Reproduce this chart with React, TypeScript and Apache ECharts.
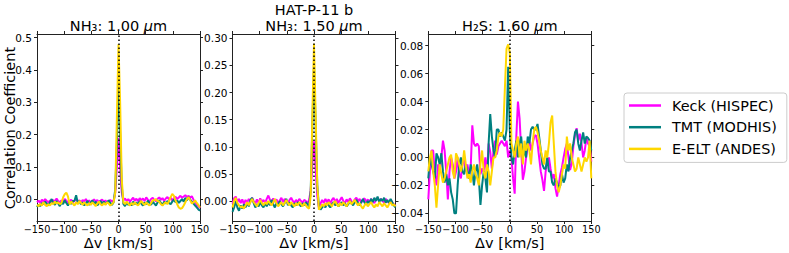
import React, { useEffect, useRef } from 'react';
import * as echarts from 'echarts';

// ---------------- DATA ----------------
const velocity = [
  -150, -147, -144, -141, -138, -135, -132, -129, -126, -123,
  -120, -117, -114, -111, -108, -105, -102, -99, -96, -93,
  -90, -87, -84, -81, -78, -75, -72, -69, -66, -63,
  -60, -57, -54, -51, -48, -45, -42, -39, -36, -33,
  -30, -27, -24, -21, -18, -15, -12, -9, -6, -3,
  0,
  3, 6, 9, 12, 15, 18, 21, 24, 27, 30,
  33, 36, 39, 42, 45, 48, 51, 54, 57, 60,
  63, 66, 69, 72, 75, 78, 81, 84, 87, 90,
  93, 96, 99, 102, 105, 108, 111, 114, 117, 120,
  123, 126, 129, 132, 135, 138, 141, 144, 147, 150,
];

const seriesNames = ['Keck (HISPEC)', 'TMT (MODHIS)', 'E-ELT (ANDES)'];
const panelTitles = ['NH₃: 1.00 ', 'NH₃: 1.50 ', 'H₂S: 1.60 '];
const supTitle = 'HAT-P-11 b';
const xName = 'Δv [km/s]';
const yName = 'Correlation Coefficient';

const xTicks = [-150, -100, -50, 0, 50, 100, 150];
const yTicksP1 = [0, 0.1, 0.2, 0.3, 0.4, 0.5];
const yTicksP2 = [0, 0.05, 0.1, 0.15, 0.2, 0.25, 0.3];
const yTicksP3 = [-0.04, -0.02, 0, 0.02, 0.04, 0.06, 0.08];

// NH3 1.00 um
const keckNH3_100 = [
  -0.01, -0.005, -0.012, -0.002, -0.008, 0.0, -0.006, -0.01, -0.004, -0.012,
  -0.003, -0.008, 0.002, -0.006, -0.01, -0.004, -0.009, 0.0, -0.005, -0.012,
  -0.007, -0.002, -0.01, -0.006, 0.001, -0.008, -0.004, -0.011, -0.003, -0.007,
  0.0, -0.009, -0.004, -0.012, -0.006, -0.001, -0.008, -0.003, -0.01, -0.005,
  -0.002, -0.009, -0.004, -0.01, -0.006, -0.003, -0.008, -0.005, 0.02,
  0.1, 0.19, 0.1, 0.02,
  -0.004, 0.002, -0.006, 0.0, -0.008, -0.002, 0.004, -0.005, 0.001, -0.007,
  0.003, -0.004, 0.002, -0.006, 0.005, -0.002, -0.008, 0.0, 0.004, -0.003,
  -0.007, 0.001, 0.005, -0.002, 0.003, -0.006, 0.002, 0.006, -0.001, 0.004,
  -0.004, 0.002, 0.007, 0.0, 0.005, 0.01, 0.004, 0.008, 0.012, 0.006,
  0.01, 0.004, 0.009, -0.002, -0.01, -0.018, -0.022, -0.028,
];
const tmtNH3_100 = [
  -0.025, -0.018, -0.022, -0.012, -0.016, -0.008, -0.014, -0.02, -0.01, 0.0,
  -0.012, -0.018, -0.006, -0.014, -0.022, -0.01, -0.016, -0.004, -0.012, -0.02,
  -0.008, -0.015, -0.006, -0.005, 0.012, -0.012, -0.006, -0.016, -0.01, -0.02,
  -0.012, -0.006, -0.018, -0.01, -0.004, -0.015, -0.008, -0.02, -0.012, -0.006,
  -0.014, -0.008, -0.016, -0.01, -0.004, -0.012, -0.018, -0.01, 0.03,
  0.17, 0.36, 0.2, 0.04,
  -0.015, -0.022, -0.01, -0.018, -0.012, -0.02, -0.008, -0.016, -0.01, -0.018,
  -0.006, -0.014, -0.02, -0.01, -0.016, -0.005, -0.012, -0.018, -0.008, -0.014,
  -0.02, -0.01, -0.004, -0.012, -0.018, -0.008, -0.014, -0.006, -0.012, -0.016,
  -0.008, -0.002, -0.01, -0.004, -0.012, -0.006, 0.0, -0.008, 0.004, -0.004,
  0.006, -0.002, -0.008, -0.014, -0.02, -0.026, -0.032, -0.036,
];
const eeltNH3_100 = [
  -0.018, -0.022, -0.015, -0.02, -0.01, -0.018, -0.022, -0.016, -0.02, -0.012,
  -0.016, -0.008, -0.014, -0.01, -0.016, -0.012, 0.005, 0.015, 0.02, 0.008,
  -0.016, -0.008, -0.014, -0.02, -0.01, -0.016, -0.006, -0.012, -0.018, -0.01,
  -0.016, -0.02, -0.012, -0.018, -0.01, -0.016, -0.022, -0.014, -0.008, -0.016,
  -0.02, -0.012, -0.018, -0.01, -0.014, -0.02, -0.016, -0.01, 0.02,
  0.25, 0.48, 0.3, 0.06,
  -0.01, -0.016, -0.008, -0.014, -0.02, -0.012, -0.018, -0.01, -0.016, -0.02,
  -0.012, -0.006, -0.014, -0.018, -0.01, -0.016, -0.02, -0.012, -0.004, -0.004,
  0.0, -0.006, -0.008, -0.016, -0.02, -0.014, -0.01, -0.016, -0.006, 0.006,
  0.016, 0.01, -0.004, -0.016, -0.026, -0.03, -0.028, -0.02, -0.01, 0.0,
  0.006, -0.004, -0.014, -0.01, -0.004, -0.012, -0.018, -0.026,
];

// NH3 1.50 um
const keckNH3_150 = [
  -0.005, 0.005, 0.008, -0.002, 0.004, -0.004, 0.003, -0.006, 0.002, -0.003,
  0.004, -0.002, 0.006, 0.0, -0.005, 0.003, -0.004, 0.005, -0.002, 0.002,
  -0.004, 0.004, 0.01, 0.002, -0.003, 0.005, -0.002, 0.003, -0.005, 0.001,
  0.006, -0.002, 0.004, 0.0, -0.004, 0.002, 0.006, 0.0, -0.003, 0.002,
  -0.002, 0.004, 0.0, -0.003, 0.002, 0.0, -0.004, 0.002, 0.02,
  0.07, 0.11, 0.06, 0.01,
  -0.012, -0.005, 0.002, -0.004, 0.004, -0.002, 0.003, -0.005, 0.002, 0.006,
  -0.002, 0.004, -0.004, 0.002, 0.007, 0.0, -0.004, 0.003, -0.002, 0.005,
  0.0, -0.004, 0.003, 0.006, -0.001, 0.004, -0.003, 0.002, 0.005, -0.002,
  0.003, -0.003, 0.004, 0.0, -0.004, 0.002, 0.006, -0.001, 0.004, 0.0,
  -0.003, 0.004, 0.0, -0.004, 0.002, -0.003, -0.006, -0.01,
];
const tmtNH3_150 = [
  -0.02, -0.012, 0.0, -0.012, -0.018, -0.008, -0.014, -0.006, -0.012, -0.004,
  -0.01, 0.002, 0.006, -0.004, -0.012, -0.006, -0.01, -0.002, -0.008, -0.012,
  -0.004, -0.01, -0.002, -0.008, 0.002, -0.006, -0.012, -0.004, -0.008, 0.0,
  -0.006, -0.01, -0.004, 0.004, -0.008, -0.002, -0.008, -0.012, -0.004, -0.008,
  -0.002, -0.006, -0.01, -0.004, -0.008, -0.002, -0.006, -0.01, 0.02,
  0.14, 0.25, 0.14, 0.03,
  -0.01, -0.016, -0.012, -0.008, -0.012, -0.004, -0.008, -0.012, -0.006, -0.002,
  -0.008, -0.004, -0.01, -0.006, -0.002, -0.008, -0.004, -0.01, -0.006, 0.0,
  -0.004, -0.008, -0.002, 0.002, -0.004, -0.008, -0.002, 0.004, -0.003, -0.006,
  0.0, -0.004, 0.004, -0.002, 0.006, 0.0, 0.008, -0.002, 0.004, 0.0,
  0.006, -0.003, 0.002, -0.004, 0.004, -0.002, -0.008, -0.012,
];
const eeltNH3_150 = [
  -0.012, 0.0, 0.006, -0.004, -0.008, -0.012, -0.01, -0.014, -0.008, -0.002,
  -0.008, -0.002, 0.004, -0.002, -0.006, -0.01, -0.004, 0.002, -0.004, -0.008,
  -0.002, -0.006, 0.0, -0.004, -0.008, -0.002, 0.004, -0.004, -0.01, -0.006,
  -0.002, -0.008, -0.004, 0.002, -0.004, -0.008, -0.002, -0.006, -0.01, -0.004,
  -0.008, -0.002, -0.006, -0.01, -0.004, -0.008, -0.012, -0.014, 0.01,
  0.16, 0.29, 0.16, 0.03,
  -0.016, -0.012, -0.006, -0.01, -0.004, -0.008, -0.002, -0.006, -0.01, -0.004,
  0.0, -0.006, -0.01, -0.004, -0.008, -0.002, -0.006, -0.01, -0.004, 0.0,
  -0.006, -0.002, 0.002, -0.004, -0.008, -0.004, -0.01, -0.014, -0.008, -0.004,
  -0.01, -0.006, -0.002, -0.008, -0.012, -0.006, -0.01, -0.002, -0.006, -0.01,
  -0.004, -0.008, -0.012, -0.006, -0.002, -0.008, -0.006, -0.01,
];

// H2S 1.60 um
const keckH2S_160 = [
  -0.03, -0.01, 0.005, 0.005, -0.012, -0.02, -0.005, -0.01, 0.0, 0.012,
  0.005, -0.01, -0.03, -0.01, 0.0, -0.005, -0.015, -0.01, 0.0, -0.012,
  -0.015, -0.005, 0.0, -0.01, -0.005, -0.012, -0.008, 0.023, 0.01, 0.008,
  0.01, 0.008, -0.012, -0.008, -0.01, 0.0, -0.012, 0.01, 0.004, -0.008,
  0.005, 0.012, 0.002, 0.008, 0.01, 0.012, 0.01, 0.008, 0.012,
  0.0, 0.005, 0.0, -0.015,
  -0.026, 0.015, 0.04, 0.028, 0.005, -0.016, -0.01, 0.0, 0.008, 0.012,
  0.005, 0.01, 0.015, 0.016, 0.01, 0.0, -0.01, -0.016, -0.024, -0.01,
  -0.004, 0.0, -0.008, -0.015, -0.012, -0.022, -0.028, -0.02, -0.012, -0.007,
  0.0, 0.006, 0.01, 0.0, -0.009, -0.004, 0.008, 0.016, 0.021, 0.012,
  0.017, 0.01, 0.0, 0.005, 0.014, 0.01, 0.008, -0.003,
];
const tmtH2S_160 = [
  -0.015, 0.0, -0.005, -0.01, -0.015, 0.003, 0.0, -0.005, 0.003, -0.01,
  -0.018, -0.012, -0.02, -0.015, -0.025, -0.03, -0.04, -0.04, -0.02, -0.005,
  0.0, -0.01, -0.012, -0.005, -0.01, -0.015, -0.005, -0.01, -0.02, -0.01,
  -0.005, -0.015, -0.034, -0.02, -0.01, -0.015, -0.025, 0.01, 0.031, 0.015,
  0.005, 0.0, 0.02, 0.02, 0.015, 0.018, 0.015, 0.012, 0.02,
  0.065, 0.02, 0.0, -0.005,
  0.005, 0.012, 0.0, 0.01, 0.015, 0.0, 0.005, 0.0, 0.015, 0.01,
  0.02, 0.022, 0.02, 0.02, 0.024, 0.015, 0.005, -0.005, -0.008, -0.008,
  0.0, -0.01, -0.01, -0.018, -0.02, -0.015, -0.018, -0.022, -0.02, -0.012,
  -0.018, -0.015, -0.005, -0.01, 0.0, 0.005, 0.01, 0.018, 0.02, 0.01,
  0.005, 0.012, 0.018, 0.01, 0.015, 0.014, 0.012, 0.005,
];
const eeltH2S_160 = [
  -0.01, 0.0, 0.005, -0.01, -0.02, -0.036, -0.02, -0.005, -0.012, -0.018,
  -0.015, -0.01, -0.005, 0.0, 0.002, -0.01, -0.015, 0.003, 0.0, -0.005,
  -0.01, -0.005, 0.005, -0.005, -0.015, -0.012, -0.018, -0.01, -0.005, -0.012,
  -0.015, -0.02, -0.005, 0.005, -0.01, -0.015, -0.005, -0.01, -0.02, -0.01,
  0.0, 0.0, 0.005, 0.015, 0.018, 0.015, 0.02, 0.05, 0.078,
  0.081, 0.075, 0.01, 0.005,
  0.0, 0.01, 0.015, 0.0, 0.01, -0.005, 0.012, 0.005, 0.01, 0.005,
  -0.005, 0.01, 0.02, 0.022, 0.018, 0.012, 0.005, 0.0, -0.005, 0.005,
  0.0, 0.01, 0.025, 0.03, 0.01, -0.01, -0.02, -0.025, -0.02, -0.012,
  -0.005, -0.008, 0.015, 0.005, 0.01, 0.0, -0.005, -0.01, -0.008, 0.0,
  -0.005, -0.01, -0.005, 0.0, -0.003, 0.0, 0.012, -0.015,
];

// ---------------- LAYOUT / STYLE ----------------
const FONT = 'DejaVu Sans';
const AX = '#222';
const COLORS = ['#FF00FF', '#008080', '#FFD700'];

const panels = [
  { left: 37, yMin: -0.068, yMax: 0.5115, yTicks: yTicksP1, dec: 1, data: [keckNH3_100, tmtNH3_100, eeltNH3_100] },
  { left: 232.5, yMin: -0.0369, yMax: 0.308, yTicks: yTicksP2, dec: 2, data: [keckNH3_150, tmtNH3_150, eeltNH3_150] },
  { left: 428.3, yMin: -0.0455, yMax: 0.0884, yTicks: yTicksP3, dec: 2, data: [keckH2S_160, tmtH2S_160, eeltH2S_160] },
];
const PW = 163;
const TOP = 34;
const PH = 187;

const fmt = (v: number, d: number) => {
  const s = Math.abs(v).toFixed(d);
  return v < -1e-9 ? '\u2212' + s : s;
};

export default function App() {
  const ref = useRef<HTMLDivElement>(null);
  useEffect(() => {
    if (!ref.current) return;
    const chart = echarts.init(ref.current, undefined, { renderer: 'svg' });

    const grids: any[] = [];
    const xAxes: any[] = [];
    const yAxes: any[] = [];
    const series: any[] = [];
    const graphics: any[] = [];

    panels.forEach((p, g) => {
      grids.push({ left: p.left, top: TOP, width: PW, height: PH, containLabel: false });
      const lineCfg = { show: true, onZero: false, lineStyle: { color: AX, width: 1 } };
      const xBase = {
        type: 'value', gridIndex: g, min: -150, max: 150,
        axisLine: lineCfg, splitLine: { show: false },
        axisTick: { show: true, inside: false, length: 3, customValues: xTicks, lineStyle: { color: AX, width: 1 } },
      };
      xAxes.push({
        ...xBase, position: 'bottom',
        axisLabel: {
          show: true, customValues: xTicks, formatter: (v: number) => fmt(v, 0), margin: 3.5,
          showMinLabel: true, showMaxLabel: true, hideOverlap: false,
          fontFamily: FONT, fontSize: 9.7, color: '#000',
        },
      });
      xAxes.push({ ...xBase, position: 'top', axisLabel: { show: false } });
      const yBase = {
        type: 'value', gridIndex: g, min: p.yMin, max: p.yMax,
        axisLine: lineCfg, splitLine: { show: false },
        axisTick: { show: true, inside: false, length: 3, customValues: p.yTicks, lineStyle: { color: AX, width: 1 } },
      };
      yAxes.push({
        ...yBase, position: 'left',
        axisLabel: {
          show: true, customValues: p.yTicks, formatter: (v: number) => fmt(v, p.dec), margin: 5,
          showMinLabel: true, showMaxLabel: true, hideOverlap: false,
          fontFamily: FONT, fontSize: 10.5, color: '#000',
        },
      });
      yAxes.push({ ...yBase, position: 'right', axisLabel: { show: false } });

      p.data.forEach((vals, k) => {
        const s: any = {
          type: 'line', name: seriesNames[k], xAxisIndex: 2 * g, yAxisIndex: 2 * g,
          data: velocity.map((v, i) => [v, vals[i]]),
          showSymbol: false, symbol: 'none', clip: true,
          lineStyle: { color: COLORS[k], width: 2 }, itemStyle: { color: COLORS[k] },
          z: 2 + k,
        };
        if (k === 2) {
          s.markLine = {
            silent: true, symbol: ['none', 'none'], label: { show: false },
            lineStyle: { color: '#000', type: [1.5, 2.5], width: 1.5 },
            data: [{ xAxis: 0 }],
          };
        }
        series.push(s);
      });

      const cx = p.left + PW / 2;
      graphics.push({
        type: 'text', x: cx, y: 25.5,
        style: {
          text: '{a|' + panelTitles[g] + '}{b|μ}{a|m}',
          rich: {
            a: { fontFamily: FONT, fontSize: 14.5, fill: '#000' },
            b: { fontFamily: FONT, fontSize: 14.5, fontStyle: 'italic', fill: '#000' },
          },
          fontFamily: FONT, fontSize: 14.5, align: 'center', verticalAlign: 'middle', fill: '#000',
        },
      });
      graphics.push({
        type: 'text', x: cx, y: 243,
        style: { text: xName, fontFamily: FONT, fontSize: 14.5, align: 'center', verticalAlign: 'middle', fill: '#000' },
      });
    });

    graphics.push({
      type: 'text', x: panels[1].left + PW / 2, y: 9.5,
      style: { text: supTitle, fontFamily: FONT, fontSize: 14.5, align: 'center', verticalAlign: 'middle', fill: '#000' },
    });
    graphics.push({
      type: 'text', x: 9.5, y: 128, rotation: Math.PI / 2,
      style: { text: yName, fontFamily: FONT, fontSize: 14.5, align: 'center', verticalAlign: 'middle', fill: '#000' },
    });

    chart.setOption({
      animation: false,
      backgroundColor: '#fff',
      grid: grids,
      xAxis: xAxes,
      yAxis: yAxes,
      series,
      graphic: graphics,
      legend: {
        orient: 'vertical', left: 624, top: 93,
        data: seriesNames,
        icon: 'rect',
        itemWidth: 32, itemHeight: 2.5, itemGap: 4.7,
        padding: [4, 10, 5, 5],
        borderColor: '#cccccc', borderWidth: 1, borderRadius: 3,
        backgroundColor: '#fff',
        textStyle: { fontFamily: FONT, fontSize: 14.4, color: '#000', lineHeight: 17, padding: [0, 0, 0, 6] },
        selectedMode: false,
      },
    });
    return () => chart.dispose();
  }, []);
  return <div ref={ref} style={{ position: 'fixed', left: 0, top: 0, width: 789, height: 253 }} />;
}
